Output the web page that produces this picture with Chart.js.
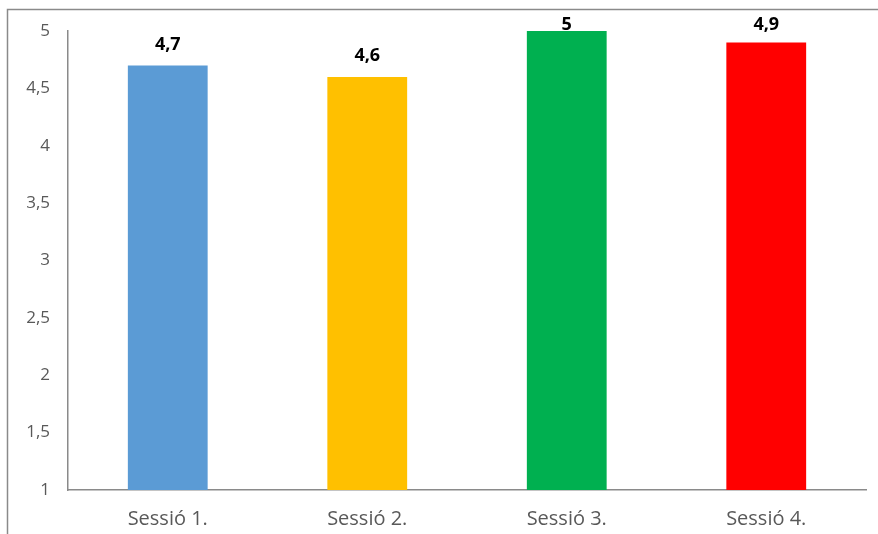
<!DOCTYPE html>
<html>
<head>
<meta charset="utf-8">
<script src="https://cdn.jsdelivr.net/npm/chart.js@4/dist/chart.umd.min.js"></script>
<style>
  html, body { margin: 0; padding: 0; background: #ffffff; overflow: hidden; }
  canvas { display: block; }
</style>
</head>
<body>
<canvas id="c" width="878" height="534"></canvas>
<script>
const categories = ["Sessió 1.", "Sessió 2.", "Sessió 3.", "Sessió 4."];
const values = [4.7, 4.6, 5, 4.9];
const barColors = ["#5B9BD5", "#FFC000", "#00B050", "#FF0000"];
const yMin = 1, yMax = 5, yStep = 0.5;

const fmt = v => String(v).replace('.', ',');

const framePlugin = {
  id: 'frame',
  beforeDraw(chart) {
    const ctx = chart.ctx;
    ctx.save();
    ctx.fillStyle = '#ffffff';
    ctx.fillRect(0, 0, chart.width, chart.height);
    ctx.strokeStyle = '#8a8a8a';
    ctx.lineWidth = 1.5;
    ctx.beginPath();
    ctx.moveTo(7.5, chart.height);
    ctx.lineTo(7.5, 9.5);
    ctx.lineTo(chart.width, 9.5);
    ctx.stroke();
    ctx.restore();
  }
};

const labelPlugin = {
  id: 'barLabels',
  afterDatasetsDraw(chart) {
    const ctx = chart.ctx;
    const meta = chart.getDatasetMeta(0);
    ctx.save();
    ctx.font = 'bold 18px "Open Sans", sans-serif';
    ctx.fillStyle = '#000000';
    ctx.textAlign = 'center';
    ctx.textBaseline = 'middle';
    meta.data.forEach((bar, i) => {
      const y = Math.max(bar.y - 21, chart.chartArea.top - 6);
      ctx.fillText(fmt(values[i]), bar.x, y);
    });
    ctx.restore();
  }
};

new Chart(document.getElementById('c'), {
  type: 'bar',
  data: {
    labels: categories,
    datasets: [{
      data: values,
      backgroundColor: barColors,
      borderWidth: 0,
      barPercentage: 0.4,
      categoryPercentage: 1.0
    }]
  },
  options: {
    responsive: false,
    animation: false,
    devicePixelRatio: 1,
    layout: { padding: { left: 0, right: 12, top: 31, bottom: 0 } },
    plugins: { legend: { display: false }, tooltip: { enabled: false } },
    scales: {
      x: {
        grid: { display: false },
        border: { display: true, color: '#8a8a8a', width: 1.5 },
        ticks: { color: '#595959', font: { family: '"Open Sans", sans-serif', size: 20 }, padding: 9 },
        afterFit: s => { s.height = 44; }
      },
      y: {
        min: yMin, max: yMax,
        grid: { display: false, drawTicks: false },
        border: { display: true, color: '#8a8a8a', width: 1.5 },
        ticks: {
          stepSize: yStep,
          color: '#595959',
          font: { family: '"Open Sans", sans-serif', size: 17 },
          padding: 18,
          callback: v => fmt(v)
        },
        afterFit: s => { s.width = 68; }
      }
    }
  },
  plugins: [framePlugin, labelPlugin]
});
</script>
</body>
</html>
